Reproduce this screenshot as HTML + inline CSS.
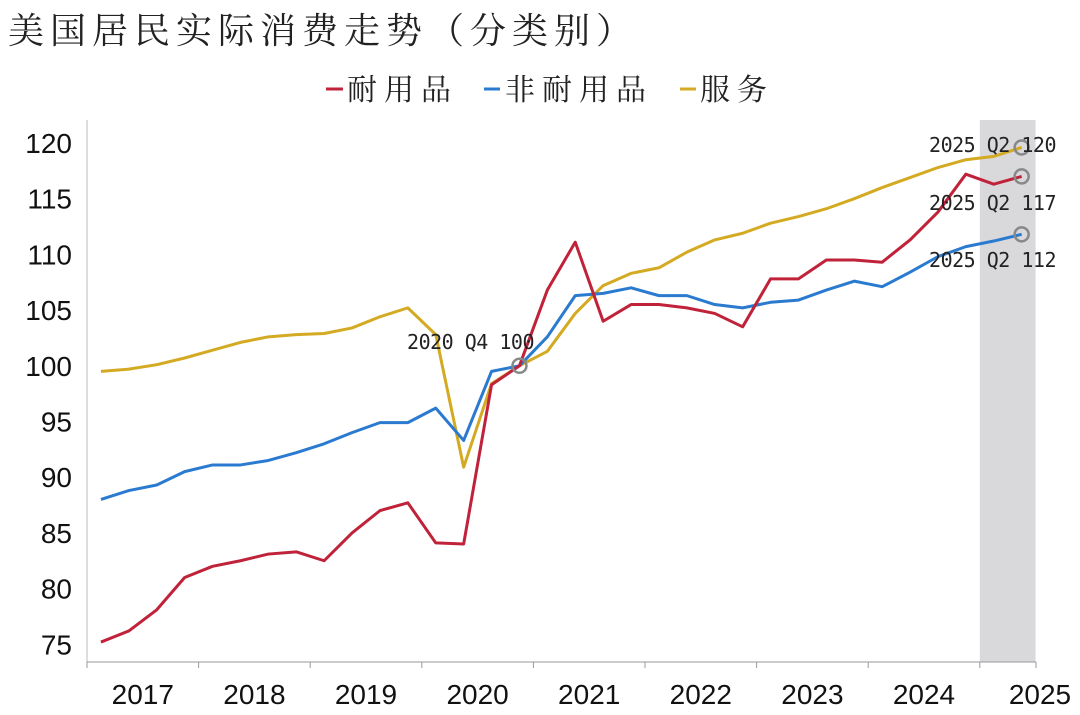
<!DOCTYPE html>
<html><head><meta charset="utf-8"><style>
body{margin:0;background:#fff;}
svg{display:block;font-family:"Liberation Sans","Noto Sans CJK SC",sans-serif;}
</style></head><body>
<svg id="chart" width="1080" height="715">
<text x="8" y="43" font-size="36" letter-spacing="6" fill="#222" font-family="'Noto Serif CJK SC','Noto Sans CJK SC',serif">美国居民实际消费走势（分类别）</text>
<g>
<g><line x1="326" y1="89" x2="343" y2="89" stroke="#c0223a" stroke-width="3"/><text x="347" y="100" font-size="30" letter-spacing="7" fill="#222" font-family="'Noto Serif CJK SC',serif">耐用品</text></g>
<g><line x1="484" y1="89" x2="500" y2="89" stroke="#2a7bd0" stroke-width="3"/><text x="505" y="100" font-size="30" letter-spacing="7" fill="#222" font-family="'Noto Serif CJK SC',serif">非耐用品</text></g>
<g><line x1="680" y1="89" x2="696" y2="89" stroke="#d4aa22" stroke-width="3"/><text x="700" y="100" font-size="30" letter-spacing="7" fill="#222" font-family="'Noto Serif CJK SC',serif">服务</text></g>
</g>
<g id="plot"></g>
</svg>
<script>
const years=['2017','2018','2019','2020','2021','2022','2023','2024','2025'];
const yTicks=[75,80,85,90,95,100,105,110,115,120];
const durable=[75.2,76.2,78.1,81.0,82.0,82.5,83.1,83.3,82.5,85.0,87.0,87.7,84.1,84.0,98.3,100,106.8,111.1,104.0,105.5,105.5,105.2,104.7,103.5,107.8,107.8,109.5,109.5,109.3,111.3,113.8,117.2,116.3,117.0];
const nondurable=[88.0,88.8,89.3,90.5,91.1,91.1,91.5,92.2,93.0,94.0,94.9,94.9,96.2,93.3,99.5,100,102.6,106.3,106.5,107.0,106.3,106.3,105.5,105.2,105.7,105.9,106.8,107.6,107.1,108.4,109.8,110.7,111.2,111.8];
const services=[99.5,99.7,100.1,100.7,101.4,102.1,102.6,102.8,102.9,103.4,104.4,105.2,102.8,90.9,98.4,100,101.3,104.7,107.2,108.3,108.8,110.2,111.3,111.9,112.8,113.4,114.1,115.0,116.0,116.9,117.8,118.5,118.8,119.6];
const labels=['2020 Q4 100','2025 Q2 120','2025 Q2 117','2025 Q2 112'];
const NS='http://www.w3.org/2000/svg';
const g=document.getElementById('plot');
const x0=87,qw=27.9;
const xq=i=>x0+qw*(i+0.5);
const y=v=>143+(120-v)*11.14;
function el(t,a,p){const e=document.createElementNS(NS,t);for(const k in a)e.setAttribute(k,a[k]);(p||g).appendChild(e);return e;}
const sh=el('rect',{x:x0+qw*32,y:120,width:qw*2,height:542,fill:'#d9d9dc'});


const ax=el('line',{x1:x0,y1:120,x2:x0,y2:662,stroke:'#bbb','stroke-width':1});


const bx=el('line',{x1:x0,y1:662,x2:1036,y2:662,stroke:'#999','stroke-width':1});


yTicks.forEach(v=>{const t=el('text',{x:72,y:y(v)+10,'font-size':28,'text-anchor':'end',fill:'#111'});t.textContent=v;

});
for(let i=0;i<=years.length;i++){const xx=Math.min(x0+qw*4*i,1036);const l=el('line',{x1:xx,y1:662,x2:xx,y2:668,stroke:'#999'});

}
years.forEach((yr,i)=>{const cx=i<8?x0+qw*4*i+qw*2:1040;const t=el('text',{x:cx,y:704,'font-size':28,'text-anchor':'middle',fill:'#111'});t.textContent=yr;

});
function series(arr,col,name){const p=el('polyline',{points:arr.map((v,i)=>xq(i)+','+y(v)).join(' '),fill:'none',stroke:col,'stroke-width':3,'stroke-linejoin':'round'});

}
series(services,'#d4aa22','line-services');
series(nondurable,'#2a7bd0','line-nondurable');
series(durable,'#c0223a','line-durable');
function mark(i,v,lab,lx,ly){const c=el('circle',{cx:xq(i),cy:y(v),r:7,fill:'none',stroke:'#888','stroke-width':2.5});


const t=el('text',{x:lx,y:ly,'font-size':20,fill:'#222','font-family':'DejaVu Sans Mono, monospace','text-anchor':'end','letter-spacing':-0.5});t.textContent=lab;

}
mark(15,100,labels[0],534,349);
mark(33,services[33],labels[1],1056,152);
mark(33,durable[33],labels[2],1056,210);
mark(33,nondurable[33],labels[3],1056,267);
</script>
</body></html>
